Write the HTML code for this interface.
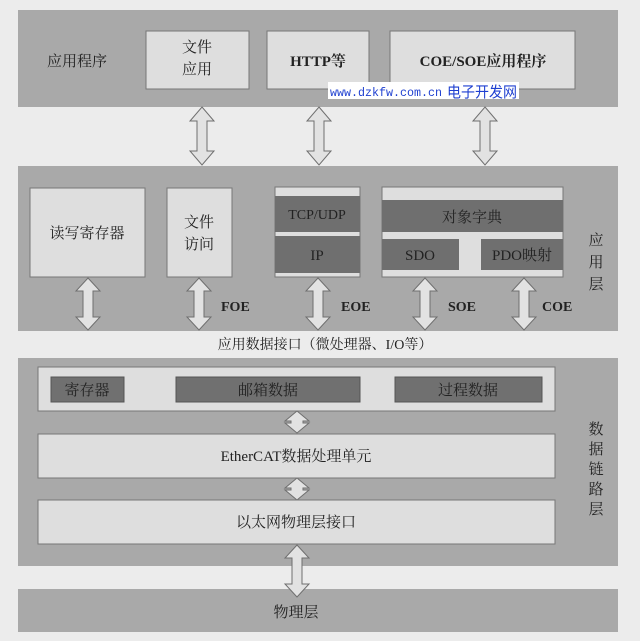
<!DOCTYPE html>
<html><head><meta charset="utf-8"><style>
body{margin:0;background:#ececec;}
svg text{font-family:"Liberation Serif","Noto Serif CJK SC","Noto Sans CJK SC",serif;fill:#222;}
</style></head><body>
<svg width="640" height="636" viewBox="0 0 640 636" xmlns="http://www.w3.org/2000/svg">
<rect width="640" height="636" fill="#ececec"/>
<!-- top band -->
<rect x="18" y="10" width="600" height="97" fill="#a9a9a9"/>
<text x="77" y="66" font-size="15" text-anchor="middle">应用程序</text>
<rect x="146" y="31" width="103" height="58" fill="#dedede" stroke="#777"/>
<text x="197" y="52" font-size="15" text-anchor="middle">文件</text>
<text x="197" y="74" font-size="15" text-anchor="middle">应用</text>
<rect x="267" y="31" width="102" height="58" fill="#dedede" stroke="#777"/>
<text x="318" y="66" font-size="15" font-weight="bold" text-anchor="middle">HTTP等</text>
<rect x="390" y="31" width="185" height="58" fill="#dedede" stroke="#777"/>
<text x="483" y="66" font-size="15" font-weight="bold" text-anchor="middle">COE/SOE应用程序</text>
<rect x="328" y="82" width="191" height="17" fill="#fff"/>
<text x="330" y="96" font-size="12" textLength="112" lengthAdjust="spacingAndGlyphs" style="fill:#1e3fd0;font-family:'Liberation Mono',monospace">www.dzkfw.com.cn</text>
<text x="447" y="97" font-size="15" textLength="70" lengthAdjust="spacingAndGlyphs" style="fill:#1e3fd0;font-family:'Noto Sans CJK SC',sans-serif">电子开发网</text>

<g fill="#e2e2e2" stroke="#6f6f6f" stroke-width="1">
<polygon points="202,107 214,121 207,121 207,151 214,151 202,165 190,151 197,151 197,121 190,121"/>
<polygon points="319,107 331,121 324,121 324,151 331,151 319,165 307,151 314,151 314,121 307,121"/>
<polygon points="485,107 497,121 490,121 490,151 497,151 485,165 473,151 480,151 480,121 473,121"/>
</g>

<!-- app layer band -->
<rect x="18" y="166" width="600" height="165" fill="#a9a9a9"/>
<rect x="30" y="188" width="115" height="89" fill="#dedede" stroke="#777"/>
<text x="87" y="238" font-size="15" text-anchor="middle">读写寄存器</text>
<rect x="167" y="188" width="65" height="89" fill="#dedede" stroke="#777"/>
<text x="199" y="227" font-size="15" text-anchor="middle">文件</text>
<text x="199" y="249" font-size="15" text-anchor="middle">访问</text>
<rect x="275" y="187" width="85" height="90" fill="#dedede" stroke="#777"/>
<rect x="275" y="196" width="85" height="36" fill="#6f6f6f"/>
<rect x="275" y="236" width="85" height="37" fill="#6f6f6f"/>
<text x="317" y="219" font-size="14" text-anchor="middle">TCP/UDP</text>
<text x="317" y="260" font-size="15" text-anchor="middle">IP</text>
<rect x="382" y="187" width="181" height="90" fill="#dedede" stroke="#777"/>
<rect x="382" y="200" width="181" height="32" fill="#6f6f6f"/>
<text x="472" y="222" font-size="15" text-anchor="middle">对象字典</text>
<rect x="382" y="239" width="77" height="31" fill="#6f6f6f"/>
<text x="420" y="260" font-size="15" text-anchor="middle">SDO</text>
<rect x="481" y="239" width="82" height="31" fill="#6f6f6f"/>
<text x="522" y="260" font-size="15" text-anchor="middle">PDO映射</text>
<text x="596" y="245" font-size="15" text-anchor="middle">应</text>
<text x="596" y="267" font-size="15" text-anchor="middle">用</text>
<text x="596" y="289" font-size="15" text-anchor="middle">层</text>

<g fill="#e2e2e2" stroke="#6f6f6f" stroke-width="1">
<polygon points="88,278 100,291 93,291 93,317 100,317 88,330 76,317 83,317 83,291 76,291"/>
<polygon points="199,278 211,291 204,291 204,317 211,317 199,330 187,317 194,317 194,291 187,291"/>
<polygon points="318,278 330,291 323,291 323,317 330,317 318,330 306,317 313,317 313,291 306,291"/>
<polygon points="425,278 437,291 430,291 430,317 437,317 425,330 413,317 420,317 420,291 413,291"/>
<polygon points="524,278 536,291 529,291 529,317 536,317 524,330 512,317 519,317 519,291 512,291"/>
</g>
<g font-size="14" font-weight="bold">
<text x="221" y="311">FOE</text>
<text x="341" y="311">EOE</text>
<text x="448" y="311">SOE</text>
<text x="542" y="311">COE</text>
</g>
<text x="325" y="349" font-size="14" text-anchor="middle">应用数据接口（微处理器、I/O等）</text>

<!-- data link band -->
<rect x="18" y="358" width="600" height="208" fill="#a9a9a9"/>
<rect x="38" y="367" width="517" height="44" fill="#dedede" stroke="#777"/>
<rect x="51" y="377" width="73" height="25" fill="#707070" stroke="#555"/>
<text x="87" y="395" font-size="15" text-anchor="middle">寄存器</text>
<rect x="176" y="377" width="184" height="25" fill="#707070" stroke="#555"/>
<text x="268" y="395" font-size="15" text-anchor="middle">邮箱数据</text>
<rect x="395" y="377" width="147" height="25" fill="#707070" stroke="#555"/>
<text x="468" y="395" font-size="15" text-anchor="middle">过程数据</text>
<g fill="#e2e2e2" stroke="#6f6f6f" stroke-width="1">
<polygon points="297,411 309,421 303,421 303,423 309,423 297,433 285,423 291,423 291,421 285,421"/>
<polygon points="297,478 309,488 303,488 303,490 309,490 297,500 285,490 291,490 291,488 285,488"/>
</g>
<rect x="38" y="434" width="517" height="44" fill="#dedede" stroke="#777"/>
<text x="296" y="461" font-size="15" text-anchor="middle">EtherCAT数据处理单元</text>
<rect x="38" y="500" width="517" height="44" fill="#dedede" stroke="#777"/>
<text x="296" y="527" font-size="15" text-anchor="middle">以太网物理层接口</text>
<text x="596" y="434" font-size="15" text-anchor="middle">数</text>
<text x="596" y="454" font-size="15" text-anchor="middle">据</text>
<text x="596" y="474" font-size="15" text-anchor="middle">链</text>
<text x="596" y="494" font-size="15" text-anchor="middle">路</text>
<text x="596" y="514" font-size="15" text-anchor="middle">层</text>

<!-- physical -->
<rect x="18" y="589" width="600" height="43" fill="#a9a9a9"/>
<text x="296" y="617" font-size="15" text-anchor="middle">物理层</text>
<polygon points="297,545 309,558 302,558 302,584 309,584 297,597 285,584 292,584 292,558 285,558" fill="#e2e2e2" stroke="#6f6f6f"/>
</svg>
</body></html>
